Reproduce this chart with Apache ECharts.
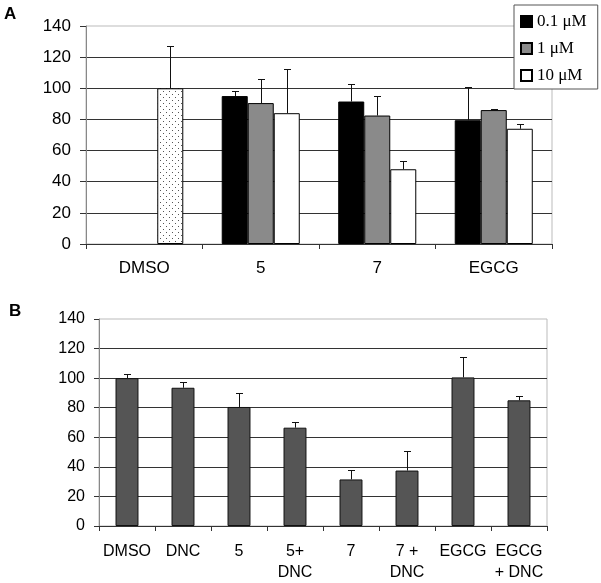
<!DOCTYPE html>
<html>
<head>
<meta charset="utf-8">
<script src="https://cdn.jsdelivr.net/npm/echarts@6/dist/echarts.min.js"></script>
<style>html,body{margin:0;padding:0;background:#fff;}#c{width:601px;height:583px;}</style>
</head>
<body>
<div id="c"></div>
<script>
// ---- Data: panel A ----
const catsA = ['DMSO', '5', '7', 'EGCG'];
const seriesNamesA = ['0.1 μM', '1 μM', '10 μM'];
const valA01 = [null, 95, 91.5, 79.5];
const errA01 = [null, 3, 11.5, 21.5];
const valA1 = [null, 90.5, 82.5, 86];
const errA1 = [null, 15.5, 12.5, 0.5];
const valA10 = [100, 84, 48, 74];
const errA10 = [27, 28.5, 5.5, 3];
const ticksY = [0, 20, 40, 60, 80, 100, 120, 140];

// ---- Data: panel B ----
const catsB = ['DMSO', 'DNC', '5', '5+\nDNC', '7', '7 +\nDNC', 'EGCG', 'EGCG\n+ DNC'];
const valB = [100, 93.5, 80.5, 66.5, 31.5, 37.5, 100.5, 85];
const errB = [3, 4, 9.5, 4, 6.5, 13, 14, 3];

// dotted fill for the DMSO control bar
const pc = document.createElement('canvas');
pc.width = 6; pc.height = 6;
const pctx = pc.getContext('2d');
pctx.fillStyle = '#fff'; pctx.fillRect(0, 0, 6, 6);
pctx.fillStyle = '#555'; pctx.fillRect(1, 1, 1, 1); pctx.fillRect(4, 4, 1, 1);

const gapA = 0.33;
const gapB = 0.59;

const errDataA = [];
[[valA01, errA01], [valA1, errA1], [valA10, errA10]].forEach(function (p, s) {
  p[0].forEach(function (v, i) { if (v != null) errDataA.push([i, v, p[1][i], s]); });
});
const errDataB = valB.map(function (v, i) { return [i, v, errB[i], 0]; });

function makeErr(nSlots, gap) {
  return function (params, api) {
    const cat = api.value(0), v = api.value(1), e = api.value(2), slot = api.value(3);
    const base = api.coord([cat, v]);
    const top = api.coord([cat, v + e]);
    const band = api.size([1, 0])[0];
    const bw = band * (1 - gap) / nSlots;
    const cx = Math.round(base[0] + (slot - (nSlots - 1) / 2) * bw) + 0.5;
    const ty = Math.round(top[1]) + 0.5;
    return {
      type: 'group',
      children: [
        { type: 'line', shape: { x1: cx, y1: base[1], x2: cx, y2: ty }, style: { stroke: '#111', lineWidth: 1 } },
        { type: 'line', shape: { x1: cx - 3.5, y1: ty, x2: cx + 3.5, y2: ty }, style: { stroke: '#111', lineWidth: 1 } }
      ]
    };
  };
}

const font = 'Liberation Sans, Arial, sans-serif';
function yAxis(gridIndex, fs, margin, tickLen) {
  return {
    type: 'value', gridIndex: gridIndex, min: 0, max: 140, interval: 20,
    axisLine: { show: true, lineStyle: { color: '#888', width: 1 } },
    axisTick: { show: true, length: tickLen, lineStyle: { color: '#333' } },
    axisLabel: { color: '#000', fontSize: fs, fontFamily: font, margin: margin,
      formatter: function (v) { return ticksY.indexOf(v) >= 0 ? String(v) : ''; } },
    splitLine: { show: true, showMaxLine: false, lineStyle: { color: '#333', width: 1 } }
  };
}

const chart = echarts.init(document.getElementById('c'), null, { renderer: 'canvas' });
chart.setOption({
  animation: false,
  backgroundColor: '#fff',
  graphic: [
    { type: 'text', left: 4, top: 6, style: { text: 'A', font: 'bold 17px ' + font, fill: '#000' } },
    { type: 'text', left: 9, top: 303, style: { text: 'B', font: 'bold 17px ' + font, fill: '#000' } }
  ],
  legend: {
    data: seriesNamesA,
    orient: 'vertical', left: 514, top: 5,
    padding: [8, 11, 5, 6],
    itemWidth: 11, itemHeight: 11, itemGap: 10,
    icon: 'rect',
    backgroundColor: '#fff', borderColor: '#555', borderWidth: 1,
    textStyle: { fontFamily: 'Liberation Serif, Times New Roman, serif', fontSize: 17, color: '#000', lineHeight: 17 },
    selectedMode: false
  },
  grid: [
    { left: 86, right: 49, top: 26, bottom: 339, show: true, borderColor: '#bbb', borderWidth: 1, backgroundColor: 'transparent' },
    { left: 99, right: 54, top: 319, bottom: 56, show: true, borderColor: '#bbb', borderWidth: 1, backgroundColor: 'transparent' }
  ],
  xAxis: [
    { type: 'category', gridIndex: 0, data: catsA,
      axisLine: { lineStyle: { color: '#333' } },
      axisTick: { show: true, length: 5, lineStyle: { color: '#333' } },
      axisLabel: { color: '#000', fontSize: 17, fontFamily: font, margin: 16 } },
    { type: 'category', gridIndex: 1, data: catsB,
      axisLine: { lineStyle: { color: '#333' } },
      axisTick: { show: true, length: 5, lineStyle: { color: '#333' } },
      axisLabel: { color: '#000', fontSize: 16, fontFamily: font, margin: 15, lineHeight: 21, interval: 0 } }
  ],
  yAxis: [yAxis(0, 17, 15, 6), yAxis(1, 16, 14, 5)],
  series: [
    { name: seriesNamesA[0], type: 'bar', xAxisIndex: 0, yAxisIndex: 0, data: valA01,
      barGap: 0, barCategoryGap: (gapA * 100) + '%',
      itemStyle: { color: '#000', borderColor: '#000', borderWidth: 1 } },
    { name: seriesNamesA[1], type: 'bar', xAxisIndex: 0, yAxisIndex: 0, data: valA1,
      barGap: 0, barCategoryGap: (gapA * 100) + '%',
      itemStyle: { color: '#8a8a8a', borderColor: '#000', borderWidth: 1 } },
    { name: seriesNamesA[2], type: 'bar', xAxisIndex: 0, yAxisIndex: 0,
      data: valA10.map(function (v, i) {
        return i === 0 ? { value: v, itemStyle: { color: { image: pc, repeat: 'repeat' } } } : v;
      }),
      barGap: 0, barCategoryGap: (gapA * 100) + '%',
      itemStyle: { color: '#fff', borderColor: '#000', borderWidth: 1 } },
    { type: 'custom', xAxisIndex: 0, yAxisIndex: 0, data: errDataA, renderItem: makeErr(3, gapA), z: 5, silent: true },
    { name: 'B', type: 'bar', xAxisIndex: 1, yAxisIndex: 1, data: valB,
      barCategoryGap: (gapB * 100) + '%',
      itemStyle: { color: '#555', borderColor: '#111', borderWidth: 1 } },
    { type: 'custom', xAxisIndex: 1, yAxisIndex: 1, data: errDataB, renderItem: makeErr(1, gapB), z: 5, silent: true }
  ]
});
</script>
</body>
</html>
